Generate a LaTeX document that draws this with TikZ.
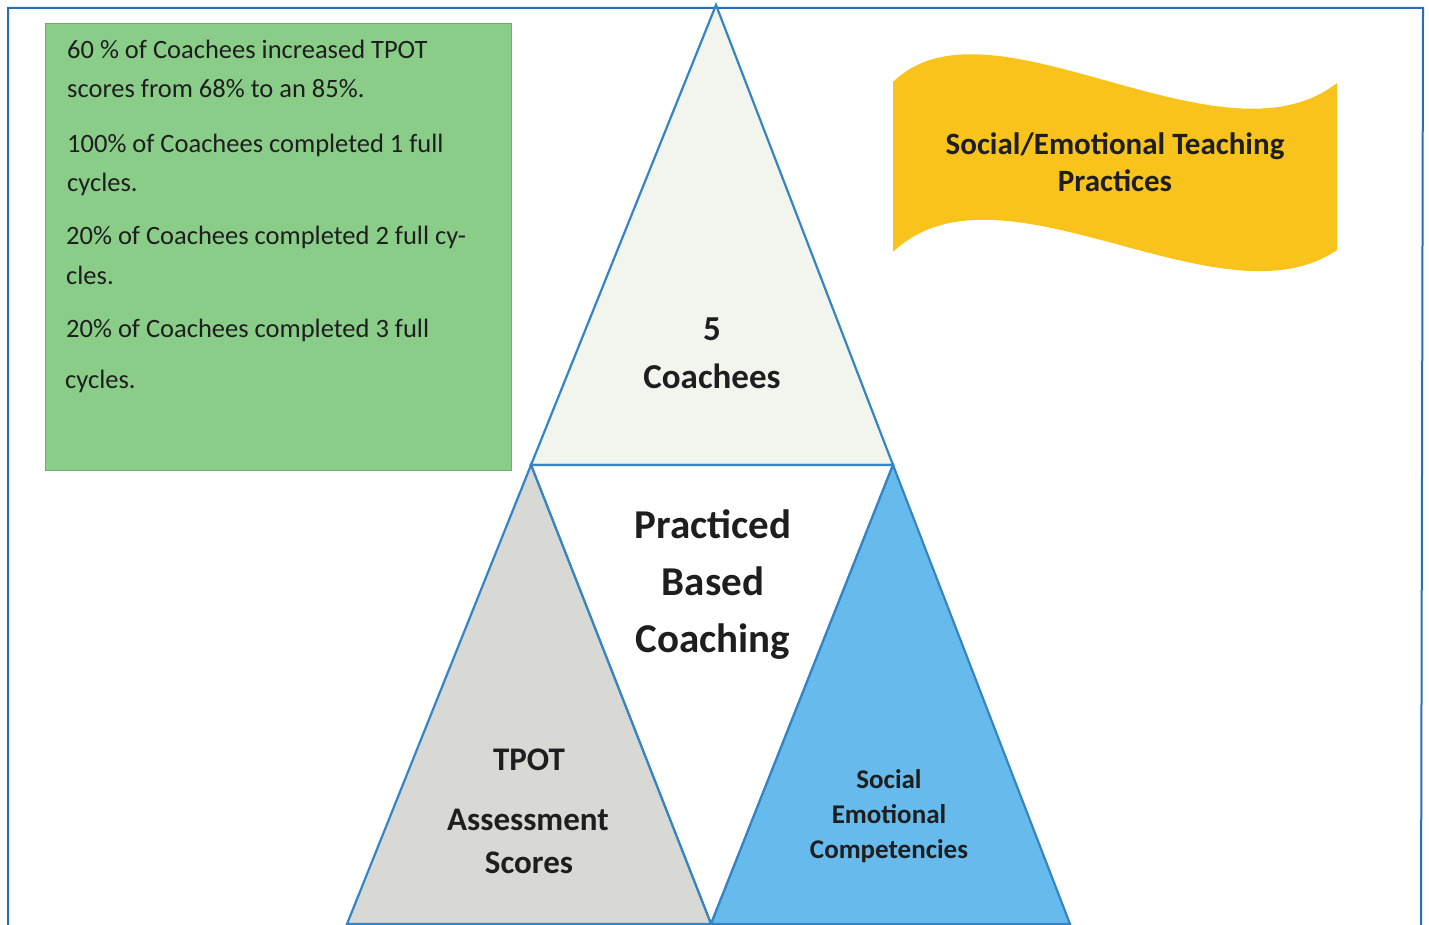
\documentclass[tikz,border=0pt]{standalone}
\usepackage{fontspec}
\setmainfont{Carlito}
\usepackage{xcolor}

\definecolor{triblue}{RGB}{52,132,198}
\definecolor{frameblue}{RGB}{40,112,180}
\definecolor{boxgreen}{RGB}{138,205,136}
\definecolor{boxedge}{RGB}{108,176,108}
\definecolor{flaggold}{RGB}{248,195,26}
\definecolor{topfill}{RGB}{241,245,238}
\definecolor{leftfill}{RGB}{216,216,212}
\definecolor{rightfill}{RGB}{102,187,236}
\definecolor{ink}{RGB}{30,30,30}

\tikzset{
  tri/.style={draw=triblue, line width=2.2pt, line join=miter},
  stattext/.style={anchor=base west, inner sep=0pt, text=ink,
    font=\fontsize{26.5}{30}\selectfont},
  midlabel/.style={anchor=base, inner sep=0pt, text=ink,
    font=\fontsize{41}{45}\selectfont\bfseries},
  toplabel/.style={anchor=base, inner sep=0pt, text=ink,
    font=\fontsize{35}{40}\selectfont\bfseries},
  leftlabel/.style={anchor=base, inner sep=0pt, text=ink,
    font=\fontsize{33}{36}\selectfont\bfseries},
  rightlabel/.style={anchor=base, inner sep=0pt, text=ink,
    font=\fontsize{27}{30}\selectfont\bfseries},
  flaglabel/.style={anchor=base, inner sep=0pt, text=ink,
    font=\fontsize{31}{34}\selectfont\bfseries}
}

\begin{document}
\begin{tikzpicture}[x=1pt, y=-1pt]
  \def\Ybase{465};
  \def\Ybot{924};
  \useasboundingbox (0,0) rectangle (1429,925);

  \coordinate (apex)  at (716, 5);
  \coordinate (bl)    at (531, \Ybase);
  \coordinate (br)    at (893, \Ybase);
  \coordinate (mid)   at (711, \Ybot);
  \coordinate (farl)  at (347, \Ybot);
  \coordinate (farr)  at (1070, \Ybot);

  \draw[frameblue, line width=2pt] (8,925) -- (8,8) -- (1423,8) -- (1421,925); % frame

  \node[draw=boxedge, line width=1.2pt, fill=boxgreen, anchor=north west,
        minimum width=466pt, minimum height=447pt, inner sep=0pt] (stats) at (45,23) {};

  \fill[flaggold] (893,82) .. controls (990,-13) and (1220,174) .. (1337,83)
        -- (1337,250) .. controls (1220,330) and (1000,150) .. (893,252) -- cycle; % flag

  \filldraw[tri, fill=topfill]   (apex) -- (br) -- (bl) -- cycle;   % coachees
  \filldraw[tri, fill=white]     (bl) -- (br) -- (mid) -- cycle;    % coaching
  \filldraw[tri, fill=leftfill]  (bl) -- (mid) -- (farl) -- cycle;  % tpot
  \filldraw[tri, fill=rightfill] (br) -- (farr) -- (mid) -- cycle;  % competencies

  \node[stattext] (s1) at (67, 59)  {60 \% of Coachees increased TPOT};
  \node[stattext] (s2) at (67, 98)  {scores from 68\% to an 85\%.};
  \node[stattext] (s3) at (67, 153) {100\% of Coachees completed 1 full};
  \node[stattext] (s4) at (67, 192) {cycles.};
  \node[stattext] (s5) at (66, 245) {20\% of Coachees completed 2 full cy-};
  \node[stattext] (s6) at (66, 284) {cles.};
  \node[stattext] (s7) at (66, 337) {20\% of Coachees completed 3 full};
  \node[stattext] (s8) at (65, 388) {cycles.};

  \node[flaglabel] (f1) at (1115, 155) {Social/Emotional Teaching};
  \node[flaglabel] (f2) at (1115, 192) {Practices};

  \node[toplabel] (n5)    at (712, 340) {5};
  \node[toplabel] (coach) at (712, 388) {Coachees};

  \node[midlabel] (pb1) at (713, 538) {Practiced};
  \node[midlabel] (pb2) at (713, 595) {Based};
  \node[midlabel] (pb3) at (713, 652) {Coaching};

  \node[leftlabel] (tp1) at (529, 770) {TPOT};
  \node[leftlabel] (tp2) at (528, 830) {Assessment};
  \node[leftlabel] (tp3) at (529, 873) {Scores};

  \node[rightlabel] (se1) at (889, 788) {Social};
  \node[rightlabel] (se2) at (889, 823) {Emotional};
  \node[rightlabel] (se3) at (889, 858) {Competencies};
\end{tikzpicture}
\end{document}
